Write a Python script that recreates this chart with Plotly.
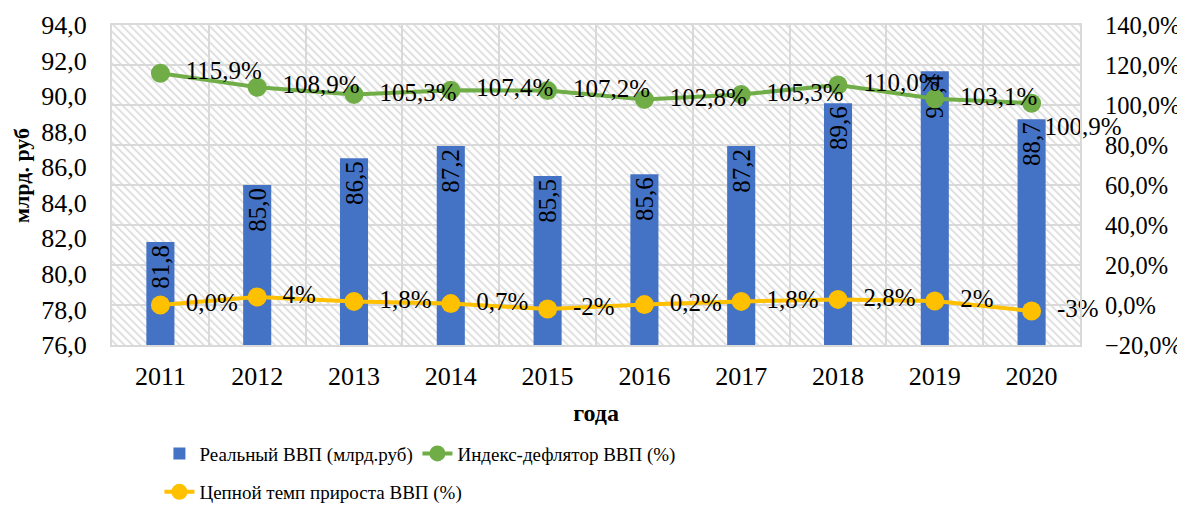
import base64
import plotly.graph_objects as go

# ---- data ----
years = ["2011", "2012", "2013", "2014", "2015", "2016", "2017", "2018", "2019", "2020"]
real_gdp = [81.8, 85.0, 86.5, 87.2, 85.5, 85.6, 87.2, 89.6, 91.4, 88.7]
deflator = [115.9, 108.9, 105.3, 107.4, 107.2, 102.8, 105.3, 110.0, 103.1, 100.9]
growth = [0.0, 4.0, 1.8, 0.7, -2.0, 0.2, 1.8, 2.8, 2.0, -3.0]
growth_labels = ["0,0%", "4%", "1,8%", "0,7%", "-2%", "0,2%", "1,8%", "2,8%", "2%", "-3%"]

name_bar = "Реальный ВВП (млрд.руб)"
name_defl = "Индекс-дефлятор ВВП (%)"
name_growth = "Цепной темп прироста ВВП (%)"

FONT = "Liberation Serif"
GRID = "#d9d9d9"
PAD = "\u00a0\u00a0"
OFF = 8  # page body margin
W, H = 1185 - OFF, 512 - 2 * OFF
PL, PT, PR, PB = 112, 25, 1080, 345  # plot area in window pixels
ML, MT = PL - OFF, PT - OFF
MR, MB = W - (PR - OFF), H - (PB - OFF)
PW, PH = PR - PL, PB - PT

# hatched plot background (decoration only)
svg = (
    f'<svg xmlns="http://www.w3.org/2000/svg" width="{PW}" height="{PH}" '
    f'viewBox="0 0 {PW} {PH}" preserveAspectRatio="none">'
    '<defs><pattern id="h" patternUnits="userSpaceOnUse" width="5.6" height="5.6" '
    'patternTransform="rotate(-45)">'
    '<rect x="0" y="0" width="2.0" height="5.6" fill="#e0e0e0"/></pattern></defs>'
    f'<rect width="{PW}" height="{PH}" fill="#ffffff"/>'
    f'<rect width="{PW}" height="{PH}" fill="url(#h)"/></svg>'
)
bg_uri = "data:image/svg+xml;base64," + base64.b64encode(svg.encode()).decode()

# label placement for the deflator series (last label sits below-right as in the source)
defl_pos = ["middle right"] * (len(years) - 1) + ["bottom right"]
defl_tpl = [PAD + "%{y:.1f}%"] * (len(years) - 1) + ["%{y:.1f}%"]

fig = go.Figure()

fig.add_trace(go.Bar(
    x=years, y=real_gdp, name=name_bar,
    marker=dict(color="#4472c4", line=dict(width=0)),
    width=0.29,
    texttemplate="%{y:.1f}", textposition="inside", insidetextanchor="end",
    textangle=-90, textfont=dict(family=FONT, size=25, color="black"),
    constraintext="none",
    legend="legend",
))

fig.add_trace(go.Scatter(
    x=years, y=deflator, name=name_defl, yaxis="y2",
    mode="lines+markers+text",
    line=dict(color="#70ad47", width=4),
    marker=dict(color="#70ad47", size=19),
    texttemplate=defl_tpl, textposition=defl_pos,
    textfont=dict(family=FONT, size=25, color="black"),
    cliponaxis=False,
    legend="legend",
))

fig.add_trace(go.Scatter(
    x=years, y=growth, name=name_growth, yaxis="y2",
    mode="lines+markers+text",
    line=dict(color="#ffc000", width=4),
    marker=dict(color="#ffc000", size=19),
    text=growth_labels, texttemplate=PAD + "%{text}", textposition="middle right",
    textfont=dict(family=FONT, size=25, color="black"),
    cliponaxis=False,
    legend="legend2",
))

fig.update_layout(
    width=W, height=H,
    margin=dict(l=ML, r=MR, t=MT, b=MB, autoexpand=False),
    paper_bgcolor="white", plot_bgcolor="white",
    separators=", ",
    font=dict(family=FONT, size=25, color="black"),
    barmode="overlay",
    images=[dict(source=bg_uri, xref="paper", yref="paper", x=0, y=1,
                 sizex=1, sizey=1, xanchor="left", yanchor="top",
                 sizing="stretch", layer="below")],
    xaxis=dict(
        type="category", range=[-0.5, len(years) - 0.5],
        tickson="boundaries", ticks="", automargin=False,
        showgrid=True, gridcolor=GRID, gridwidth=2,
        showline=True, linecolor=GRID, linewidth=2, mirror=True,
        tickfont=dict(family=FONT, size=26, color="black"),
        ticklabelstandoff=7,
        title=dict(text="<b>года</b>", font=dict(family=FONT, size=24, color="black"), standoff=14),
    ),
    yaxis=dict(
        range=[76, 94], dtick=2, tickformat=".1f", ticks="", automargin=False,
        showgrid=False, zeroline=False,
        showline=True, linecolor=GRID, linewidth=2,
        tickfont=dict(family=FONT, size=26, color="black"),
        ticklabelstandoff=18,
    ),
    yaxis2=dict(
        overlaying="y", side="right", automargin=False,
        range=[-20, 140], dtick=20, tickformat=".1f", ticksuffix="%", ticks="",
        showgrid=True, gridcolor=GRID, gridwidth=2, zeroline=False,
        showline=True, linecolor=GRID, linewidth=2,
        tickfont=dict(family=FONT, size=24.5, color="black"),
        ticklabelstandoff=18,
    ),
    annotations=[dict(
        text="<b>млрд. руб</b>", textangle=-90, showarrow=False,
        xref="paper", yref="paper", x=(21 - PL) / PW, y=(PB - 176) / PH,
        xanchor="center", yanchor="middle",
        font=dict(family=FONT, size=22, color="black"),
    )],
    legend=dict(
        orientation="h", x=0.049, xanchor="left", y=-0.28, yanchor="top",
        font=dict(family=FONT, size=19, color="black"),
        entrywidth=213, bgcolor="rgba(0,0,0,0)",
    ),
    legend2=dict(
        orientation="h", x=0.049, xanchor="left", y=-0.40, yanchor="top",
        font=dict(family=FONT, size=19, color="black"),
        bgcolor="rgba(0,0,0,0)",
    ),
)

fig.write_html("out.html")
